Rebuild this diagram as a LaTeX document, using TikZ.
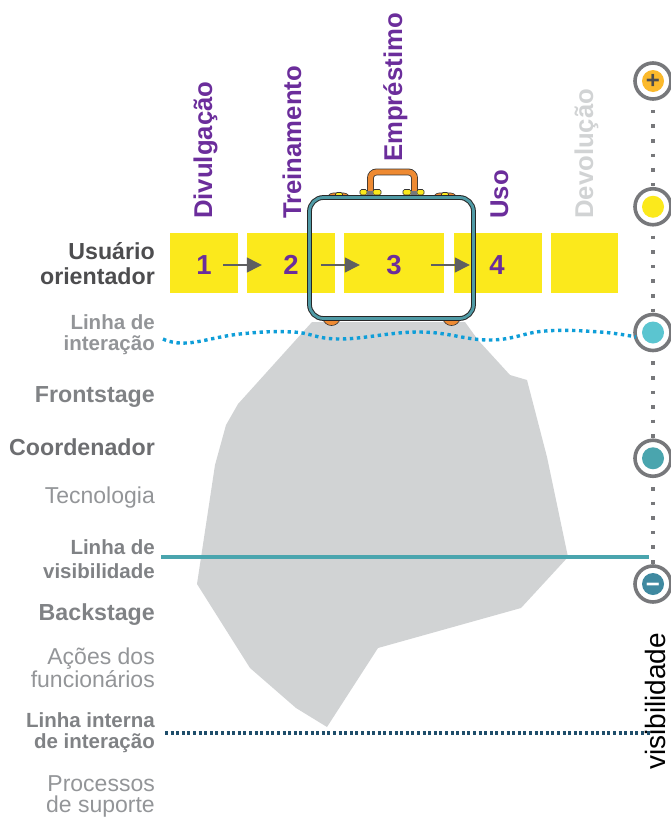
\documentclass[tikz,border=0pt]{standalone}
\usepackage{fontspec}
\setmainfont{Liberation Sans}
\definecolor{stagepurple}{HTML}{6B2D9B}
\definecolor{stepyellow}{HTML}{FBE91C}
\definecolor{darktext}{HTML}{4D4D4F}
\definecolor{midtext}{HTML}{808285}
\definecolor{lighttext}{HTML}{939598}
\definecolor{icegray}{HTML}{D1D3D4}
\definecolor{waveblue}{HTML}{0F9ED8}
\definecolor{lineteal}{HTML}{4AA5AE}
\definecolor{linenavy}{HTML}{1F4E6B}
\definecolor{ringgray}{HTML}{77787B}
\definecolor{caseteal}{HTML}{4F9AA5}
\definecolor{caseorange}{HTML}{EE8A32}
\definecolor{plusamber}{HTML}{FBB92C}
\definecolor{midcyan}{HTML}{5BC5D0}
\definecolor{minusblue}{HTML}{3F89A0}
\usetikzlibrary{arrows.meta}
\tikzset{
	stagelabel/.style={rotate=90, anchor=base west, text=stagepurple, font=\bfseries\fontsize{25.7}{25.7}\selectfont},
	stepbox/.style={fill=stepyellow, minimum height=60pt, inner sep=0pt},
	stepnum/.style={text=stagepurple, minimum width=40pt, inner sep=0pt, font=\bfseries\fontsize{27.5}{27.5}\selectfont},
	flow/.style={-{Triangle[length=15pt,width=15pt]}, draw=darktext!90, line width=1.3pt},
	rowlabel/.style={anchor=base east, align=right, inner sep=0pt},
	rowstrong/.style={rowlabel, text=midtext, font=\bfseries\fontsize{23.2}{25}\selectfont},
	rowplain/.style={rowlabel, text=lighttext, font=\fontsize{23}{21}\selectfont},
	rowline/.style={rowlabel, text=lighttext, font=\bfseries\fontsize{20.5}{20.5}\selectfont},
	level/.style={circle, draw=ringgray, fill=white, line width=3.6pt, minimum size=36pt, inner sep=0pt},
	disc/.style={circle, minimum size=22pt, inner sep=0pt},
	scale dots/.style={draw=ringgray, line width=3.6pt, dash pattern=on 3.6pt off 11pt, dash phase=5.6pt},
	clip part/.style={fill=stepyellow, draw=black!80, line width=.6pt, rounded corners=1.5pt},
	ornament/.style={fill=caseorange, draw=black!80, line width=.6pt}
}
\begin{document}
\begin{tikzpicture}[x=1pt, y=-1pt, node distance=125.75pt]
	\useasboundingbox (0,0) rectangle (670,817);
	% iceberg
	\fill[icegray] (312,322) -- (238,404) -- (226,425) -- (215,465) -- (197,584) -- (250,668) -- (296,708) -- (327,727) -- (378,648) -- (521,608) -- (568,557) -- (547,457) -- (527,380) -- (510,375) -- (478,340) -- (465,322) -- cycle;
	% scale on the right
	\node[level] (plus) at (653,81) {};
	\node[level] (high) [below of=plus] {};
	\node[level] (mid) [below of=high] {};
	\node[level] (low) [below of=mid] {};
	\node[level] (minus) [below of=low] {};
	\draw[scale dots] (plus) -- (high);
	\draw[scale dots] (high) -- (mid);
	\draw[scale dots] (mid) -- (low);
	\draw[scale dots] (low) -- (minus);
	\node[disc, fill=plusamber, text=darktext, font=\bfseries\fontsize{24}{24}\selectfont] (plusdisc) at (plus) {+};
	\node[disc, fill=stepyellow] (highdisc) at (high) {};
	\node[disc, fill=midcyan] (middisc) at (mid) {};
	\node[disc, fill=lineteal] (lowdisc) at (low) {};
	\node[disc, fill=minusblue, text=white, text height=16pt, text depth=0pt, font=\bfseries\fontsize{24}{24}\selectfont] (minusdisc) at (minus) {−};
	\node[rotate=90, anchor=base west, inner sep=0pt, font=\fontsize{28}{28}\selectfont] (vis) at (665,770) {visibilidade};
	% stages
	\node[stagelabel, inner sep=0pt] (divulg) at (212,219) {Divulgação};
	\node[stagelabel, inner sep=0pt] (trein) at (301,219) {Treinamento};
	\node[stagelabel, inner sep=0pt] (empr) at (402,162) {Empréstimo};
	\node[stagelabel, inner sep=0pt] (uso) at (508,219) {Uso};
	\node[stagelabel, inner sep=0pt, text=icegray] (devol) at (593,219) {Devolução};
	\node[stepbox, minimum width=68pt] (box1) at (204,263) {};
	\node[stepbox, minimum width=88pt] (box2) at (291,263) {};
	\node[stepbox, minimum width=100pt] (box3) at (394,263) {};
	\node[stepbox, minimum width=88pt] (box4) at (498,263) {};
	\node[stepbox, minimum width=67pt] (box5) at (584.5,263) {};
	\node[stepnum] (n1) at (204,265) {1};
	\node[stepnum] (n2) at (291,265) {2};
	\node[stepnum] (n3) at (394,265) {3};
	\node[stepnum] (n4) at (497,265) {4};
	\draw[flow, shorten <=-1pt, shorten >=9pt] (n1) -- (n2);
	\draw[flow, shorten <=10pt, shorten >=14pt] (n2) -- (n3);
	\draw[flow, shorten <=17pt, shorten >=7pt] (n3) -- (n4);
	% row labels
	\node[rowstrong, text=darktext] (user) at (155,284) {Usuário\\orientador};
	\node[rowline] (linter) at (155,350) {Linha de\\interação};
	\node[rowstrong] (front) at (155,402) {Frontstage};
	\node[rowstrong, text=midtext!85!black] (coord) at (155,455) {Coordenador};
	\node[rowplain] (tecno) at (155,503) {Tecnologia};
	\node[rowline, text=midtext, font=\bfseries\fontsize{20.5}{24}\selectfont] (lvis) at (155,578) {Linha de\\visibilidade};
	\node[rowstrong] (back) at (155,620) {Backstage};
	\node[rowplain] (acoes) at (155,687) {Ações dos\\funcionários};
	\node[rowline, text=midtext] (lint) at (155,748) {Linha interna\\de interação};
	\node[rowplain, font=\fontsize{23}{21.5}\selectfont] (proc) at (155,812.5) {Processos\\de suporte};
	% lines across
	\coordinate (wavestart) at (163,339);
	\coordinate (vistart) at (161,557);
	\coordinate (visend) at (649,557);
	\coordinate (intstart) at (165,733);
	\coordinate (intend) at (650,733);
	\draw[waveblue, line width=3.4pt, dash pattern=on 3.4pt off 3.6pt] plot[smooth, tension=.7] coordinates {(wavestart) (187,343) (240,334) (293,332) (340,339) (420,332) (490,340) (545,331) (600,332) (636,337)};
	\draw[lineteal, line width=3.4pt] (vistart) -- (visend);
	\draw[linenavy, line width=3.2pt, dash pattern=on 3pt off 2.6pt] (intstart) -- (intend);
	% suitcase
	\fill[ornament] (322.5,318) .. controls (325,328) and (338,328) .. (340.5,318) -- cycle;
	\fill[ornament] (442.5,318) .. controls (445,328) and (458,328) .. (460.5,318) -- cycle;
	\draw[black!80, double=caseorange, double distance=5.2pt, line width=.8pt, rounded corners=6pt] (370.5,194) -- (370.5,172) -- (414.5,172) -- (414.5,194);
	\filldraw[ornament, rounded corners=3pt] (326,199) -- (330,193) -- (347,193) -- (351,199) -- cycle;
	\filldraw[ornament, rounded corners=3pt] (432,199) -- (436,193) -- (454,193) -- (458,199) -- cycle;
	\filldraw[clip part] (335.5,192.5) rectangle (342.5,197);
	\filldraw[clip part] (441.5,192.5) rectangle (448.5,197);
	\filldraw[clip part] (360,189.5) rectangle (367,195);
	\filldraw[clip part] (373,189.5) rectangle (381,195);
	\filldraw[clip part] (403,189.5) rectangle (411,195);
	\filldraw[clip part] (417,189.5) rectangle (424,195);
	\fill[ringgray] (367,191) rectangle (373,195);
	\fill[ringgray] (411,191) rectangle (417,195);
	\node[draw=black!85, double=caseteal, double distance=2.8pt, line width=1pt, rounded corners=14pt, minimum width=164pt, minimum height=121pt, inner sep=0pt, outer sep=0pt] (case) at (391.5,258) {};
\end{tikzpicture}
\end{document}
